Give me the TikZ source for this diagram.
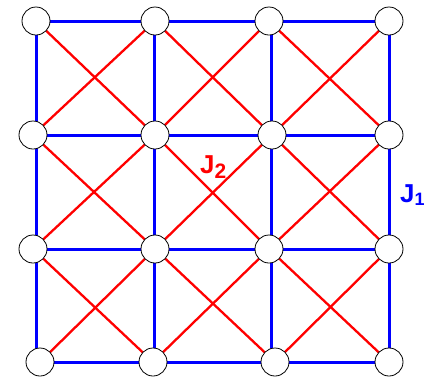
\documentclass[tikz,border=0pt]{standalone}
\usepackage{fontspec}
\setmainfont{Liberation Sans}
\begin{document}
\begin{tikzpicture}[x=1bp,y=-1bp,
  bondone/.style={draw=blue,line width=3bp},
  bondtwo/.style={draw=red,line width=2.3bp},
  site/.style={circle,draw=black,fill=white,line width=0.8bp,minimum size=28bp,inner sep=0pt},
  lab/.style={font=\bfseries\fontsize{26}{26}\selectfont,inner sep=0pt,anchor=base west}]
\useasboundingbox (0,0) rectangle (427,378);
% regular grid points for J1 bonds
\foreach \c/\x in {0/36,1/154,2/271,3/389}{
  \foreach \r/\y in {0/21,1/135,2/249,3/362}{
    \coordinate (g-\r-\c) at (\x,\y);
  }
}
% site positions
\coordinate (n-0-0) at (36,21);  \coordinate (n-0-1) at (155,21);  \coordinate (n-0-2) at (269,21);  \coordinate (n-0-3) at (389,21);
\coordinate (n-1-0) at (33,135); \coordinate (n-1-1) at (155,135); \coordinate (n-1-2) at (272,135); \coordinate (n-1-3) at (389,135);
\coordinate (n-2-0) at (33,249); \coordinate (n-2-1) at (155,249); \coordinate (n-2-2) at (269,249); \coordinate (n-2-3) at (389,249);
\coordinate (n-3-0) at (40,362); \coordinate (n-3-1) at (153,362); \coordinate (n-3-2) at (275,362); \coordinate (n-3-3) at (389,362);
% J2 diagonal bonds
\foreach \r [evaluate=\r as \rr using int(\r+1)] in {0,1,2}{
  \foreach \c [evaluate=\c as \cc using int(\c+1)] in {0,1,2}{
    \draw[bondtwo] (n-\r-\c) -- (n-\rr-\cc);
    \draw[bondtwo] (n-\r-\cc) -- (n-\rr-\c);
  }
}
% J1 nearest-neighbour bonds
\foreach \i in {0,1,2,3}{
  \draw[bondone] (g-\i-0) -- (g-\i-3);
  \draw[bondone] (g-0-\i) -- (g-3-\i);
}
% sites
\foreach \r in {0,1,2,3}{
  \foreach \c in {0,1,2,3}{
    \node[site] (s-\r-\c) at (n-\r-\c) {};
  }
}
% labels
\node[lab,text=red] (jtwo) at (200,173) {J\raisebox{-0.2em}{\fontsize{21}{21}\selectfont 2}};
\node[lab,text=blue] (jone) at (400,202) {J\raisebox{-0.15em}{\fontsize{18}{18}\selectfont 1}};
\end{tikzpicture}
\end{document}
